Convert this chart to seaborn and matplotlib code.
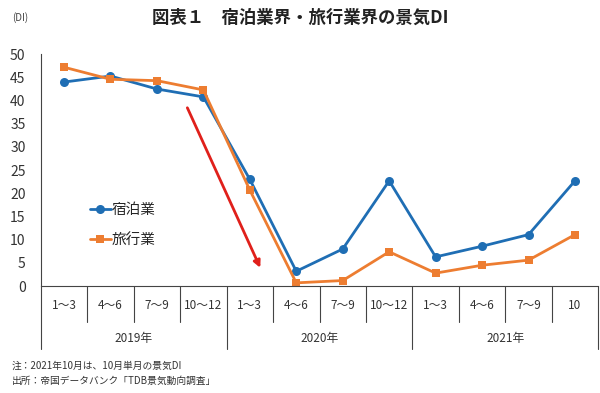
import matplotlib
matplotlib.use("Agg")
import matplotlib.pyplot as plt
import matplotlib.transforms as mtransforms
import seaborn as sns
import pandas as pd

months = ["1～3", "4～6", "7～9", "10～12",
          "1～3", "4～6", "7～9", "10～12",
          "1～3", "4～6", "7～9", "10"]
years = ["2019年", "2020年", "2021年"]
year_sizes = [4, 4, 4]

hotel = [44.0, 45.3, 42.5, 40.8, 23.0, 3.2, 8.0, 22.7, 6.3, 8.6, 11.1, 22.7]
travel = [47.2, 44.6, 44.3, 42.3, 20.7, 0.7, 1.2, 7.4, 2.8, 4.5, 5.6, 11.1]

sns.set_style("white")
plt.rcParams["font.family"] = ["Noto Sans CJK JP", "DejaVu Sans"]

df = pd.DataFrame({"pos": range(len(months)), "hotel": hotel, "travel": travel})

fig = plt.figure(figsize=(6.0, 3.93), dpi=100)
ax = fig.add_axes([0.068, 0.272, 0.929, 0.590])

blue = "#1F6EB4"
orange = "#ED7D31"

sns.lineplot(data=df, x="pos", y="hotel", ax=ax, color=blue, marker="o",
             markersize=6.5, markeredgewidth=0, linewidth=2.0, label="宿泊業",
             clip_on=False)
sns.lineplot(data=df, x="pos", y="travel", ax=ax, color=orange, marker="s",
             markersize=6, markeredgewidth=0, linewidth=2.0, label="旅行業",
             clip_on=False)

ax.set_xlim(-0.5, len(months) - 0.5)
ax.set_ylim(0, 50)
ax.set_yticks(range(0, 51, 5))
ax.set_xticks([])
ax.set_xlabel("")
ax.set_ylabel("")
ax.tick_params(axis="y", length=0, pad=11, labelsize=10, colors="#333333")

for side in ["top", "right"]:
    ax.spines[side].set_visible(False)
for side in ["left", "bottom"]:
    ax.spines[side].set_color("#444444")
    ax.spines[side].set_linewidth(0.8)

# table-style category axis
trans = mtransforms.blended_transform_factory(ax.transData, ax.transAxes)
year_edges = [-0.5]
for s in year_sizes:
    year_edges.append(year_edges[-1] + s)
for i in range(len(months) + 1):
    x = i - 0.5
    y_end = -0.27 if x in year_edges else -0.155
    ax.plot([x, x], [0, y_end], transform=trans, color="#444444", lw=0.8,
            clip_on=False)
for i, m in enumerate(months):
    ax.text(i, -0.085, m, transform=trans, ha="center", va="center",
            fontsize=8.5, color="#333333")
for k, yr in enumerate(years):
    xc = (year_edges[k] + year_edges[k + 1]) / 2
    ax.text(xc, -0.225, yr, transform=trans, ha="center", va="center",
            fontsize=8.5, color="#333333")

# red arrow
ax.annotate("", xy=(4.25, 3.4), xytext=(2.63, 39.0),
            arrowprops=dict(arrowstyle="-|>", color="#E0201B", lw=2.0,
                            mutation_scale=10))

ax.legend(loc="center left", bbox_to_anchor=(0.065, 0.263), frameon=False,
          fontsize=10.5, handlelength=1.4, handletextpad=0.1,
          labelspacing=1.05)

fig.text(0.5, 0.955, "図表１　宿泊業界・旅行業界の景気DI", ha="center",
         va="center", fontsize=12.5, fontweight="bold", color="#222222")
fig.text(0.02, 0.955, "(DI)", ha="left", va="center", fontsize=7,
         color="#444444")
fig.text(0.02, 0.07, "注：2021年10月は、10月単月の景気DI", ha="left",
         va="center", fontsize=7, color="#333333")
fig.text(0.02, 0.03, "出所：帝国データバンク「TDB景気動向調査」", ha="left",
         va="center", fontsize=7, color="#333333")

fig.savefig("out.png", dpi=100)
